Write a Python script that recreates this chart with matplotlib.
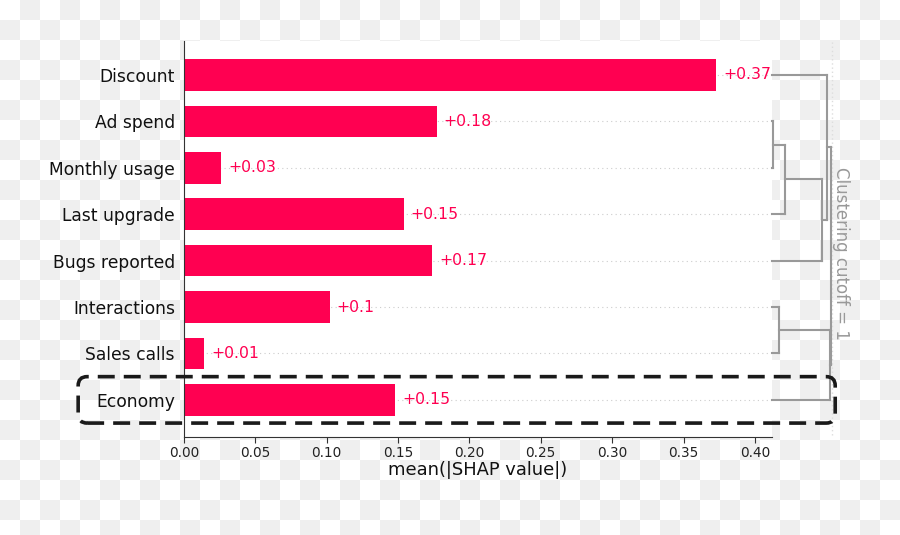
import numpy as np
import matplotlib
matplotlib.use("Agg")
import matplotlib.pyplot as plt
from matplotlib.patches import FancyBboxPatch
from matplotlib.transforms import IdentityTransform

# ---------------------------
# data (features listed top to bottom)
# ---------------------------
features = ["Discount", "Ad spend", "Monthly usage", "Last upgrade",
            "Bugs reported", "Interactions", "Sales calls", "Economy"]
mean_abs_shap = [0.373, 0.177, 0.026, 0.154, 0.174, 0.102, 0.014, 0.148]
xticks = [0.00, 0.05, 0.10, 0.15, 0.20, 0.25, 0.30, 0.35, 0.40]

# hierarchical clustering merges: (node a, node b, distance), leaves are 0..7
merges = [(1, 2, 0.02), (8, 3, 0.22), (9, 4, 0.84), (0, 10, 0.92),
          (5, 6, 0.12), (12, 7, 0.97), (11, 13, 0.985)]
cutoff = 1.0
highlight = "Economy"

red = "#ff0051"
grey = "#999999"


def fmt(v):
    s = f"{v:+.2f}"
    return s.rstrip("0").rstrip(".")


fig = plt.figure(figsize=(9, 5.35), dpi=100)

# transparent-style checkerboard background
h, w = 535, 900
yy, xx = np.mgrid[0:h, 0:w]
odd = ((xx // 20 + yy // 20) % 2) == 1
bg = np.ones((h, w, 3))
bg[odd] = 239 / 255
fig.figimage(bg, xo=0, yo=0, origin="upper", zorder=-10)

ax = fig.add_axes([184 / 900, 98 / 535, 588 / 900, 396 / 535])
ax.set_facecolor("white")

n = len(features)
ypos = np.arange(n)[::-1]

for y in ypos:
    ax.axhline(y, color="#cccccc", lw=0.8, dashes=(1, 3), zorder=-1)

ax.barh(ypos, mean_abs_shap, height=0.68, color=red, zorder=2)
for y, v in zip(ypos, mean_abs_shap):
    ax.annotate(fmt(v), (v, y), xytext=(5, 0), textcoords="offset points",
                ha="left", va="center", color=red, fontsize=11.3)

xmax = 0.412
ax.set_xlim(0, xmax)
ax.set_ylim(-0.8, 7.73)
ax.set_yticks(ypos)
ax.set_yticklabels(features, fontsize=12.3, color="#111111")
ax.set_xticks(xticks)
ax.set_xticklabels([f"{t:.2f}" for t in xticks], fontsize=9.8, color="#222222")
ax.tick_params(axis="y", length=0, pad=6.5)
ax.tick_params(axis="x", length=4, color="#333333", pad=2.5)
ax.set_xlabel("mean(|SHAP value|)", fontsize=12.9, color="#111111", labelpad=1)
for s in ["top", "right"]:
    ax.spines[s].set_visible(False)
ax.spines["left"].set_color("#333333")
ax.spines["bottom"].set_color("#333333")

# ---------------------------
# dendrogram on the right
# ---------------------------
dscale = 0.0419


def dx(d):
    return xmax + d * dscale


node_y = {i: ypos[i] for i in range(n)}
node_d = {i: 0.0 for i in range(n)}
for k, (a, b, d) in enumerate(merges):
    ya, yb = node_y[a], node_y[b]
    ax.plot([dx(node_d[a]), dx(d)], [ya, ya], color=grey, lw=1.5, clip_on=False, zorder=3)
    ax.plot([dx(node_d[b]), dx(d)], [yb, yb], color=grey, lw=1.5, clip_on=False, zorder=3)
    ax.plot([dx(d), dx(d)], [ya, yb], color=grey, lw=1.5, clip_on=False, zorder=3)
    node_y[n + k] = (ya + yb) / 2
    node_d[n + k] = d

ax.plot([dx(cutoff), dx(cutoff)], [-0.75, 7.7], color="#dddddd", lw=1,
        dashes=(1, 2), clip_on=False, zorder=1)
ax.text(dx(cutoff) + 0.0065, 3.15, f"Clustering cutoff = {cutoff:g}", rotation=-90,
        ha="center", va="center", color=grey, fontsize=12, clip_on=False)

# ---------------------------
# dashed highlight box around one feature row
# ---------------------------
fig.canvas.draw()
yh = ypos[features.index(highlight)]
x0 = ax.transAxes.transform((-0.18, 0))[0]
x1 = ax.transAxes.transform((1.1075, 0))[0]
y0 = ax.transData.transform((0, yh - 0.5))[1]
y1 = ax.transData.transform((0, yh + 0.5))[1]
box = FancyBboxPatch((x0, y0), x1 - x0, y1 - y0,
                     boxstyle="round,pad=0,rounding_size=9",
                     fill=False, edgecolor="#1a1a1a", lw=2.6,
                     linestyle=(0, (4.7, 2.5)), transform=IdentityTransform(),
                     zorder=10)
fig.add_artist(box)

fig.savefig("out.png", dpi=100)
